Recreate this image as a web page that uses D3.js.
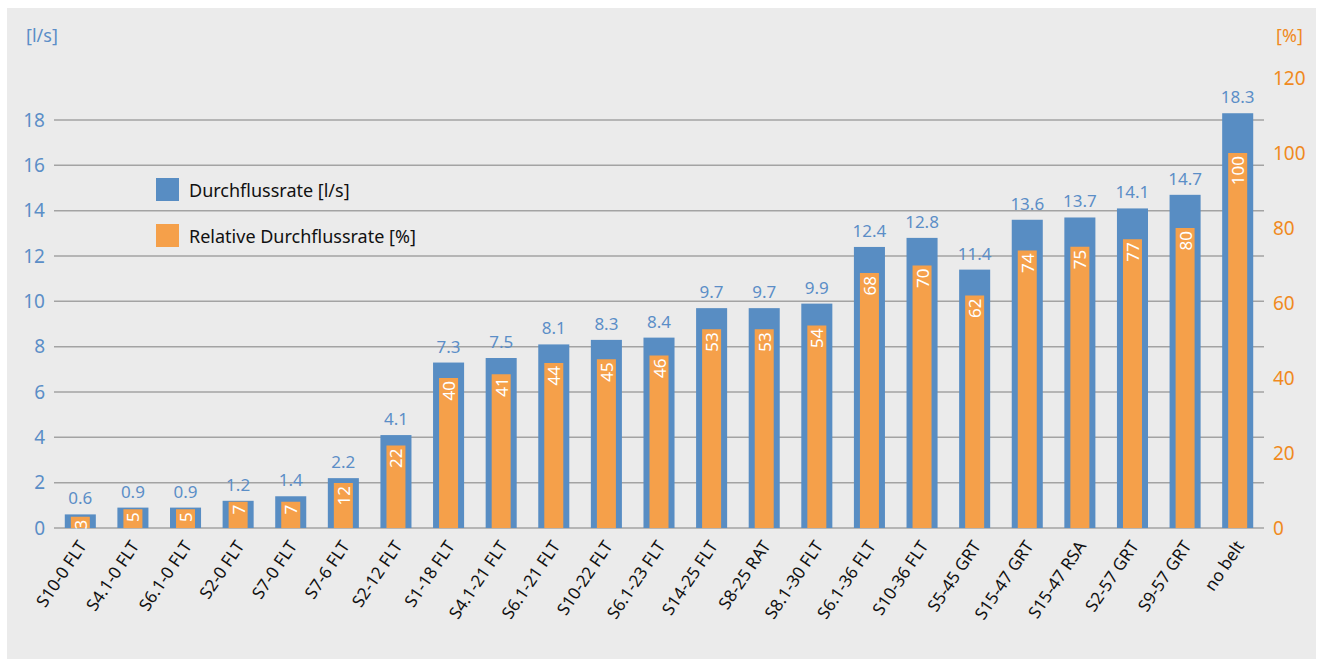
<!DOCTYPE html>
<html><head><meta charset="utf-8">
<script src="https://cdn.jsdelivr.net/npm/d3@7"></script>
<style>body{margin:0;background:#fff;} svg{display:block;font-family:"Noto Sans",sans-serif;}</style>
</head><body>
<svg id="c" width="1317" height="659"></svg>
<script>
const categories = ["S10-0 FLT","S4.1-0 FLT","S6.1-0 FLT","S2-0 FLT","S7-0 FLT","S7-6 FLT","S2-12 FLT","S1-18 FLT","S4.1-21 FLT","S6.1-21 FLT","S10-22 FLT","S6.1-23 FLT","S14-25 FLT","S8-25 RAT","S8.1-30 FLT","S6.1-36 FLT","S10-36 FLT","S5-45 GRT","S15-47 GRT","S15-47 RSA","S2-57 GRT","S9-57 GRT","no belt"];
const flowRate = [0.6,0.9,0.9,1.2,1.4,2.2,4.1,7.3,7.5,8.1,8.3,8.4,9.7,9.7,9.9,12.4,12.8,11.4,13.6,13.7,14.1,14.7,18.3];
const relativeRate = [3,5,5,7,7,12,22,40,41,44,45,46,53,53,54,68,70,62,74,75,77,80,100];
const leftTicks = [0,2,4,6,8,10,12,14,16,18];
const rightTicks = [0,20,40,60,80,100,120];
const seriesNames = ["Durchflussrate [l/s]","Relative Durchflussrate [%]"];

const blue = "#588dc3", orange = "#f5a04a";
const blueText = "#5b8ec7", orangeText = "#f08a1e";
const svg = d3.select("#c");
svg.append("rect").attr("x",7).attr("y",8).attr("width",1309).attr("height",651).attr("fill","#ebebeb");

const x0 = 54, x1 = 1264, yBase = 528;
const x = d3.scaleBand().domain(categories).range([x0,x1]).paddingInner(0.41).paddingOuter(0.205);
const yL = d3.scaleLinear().domain([0,20]).range([yBase,74.7]);
const yR = d3.scaleLinear().domain([0,120]).range([yBase,78]);

// gridlines
svg.append("g").selectAll("line").data(leftTicks).join("line")
  .attr("x1",x0).attr("x2",x1).attr("y1",d=>yL(d)).attr("y2",d=>yL(d))
  .attr("stroke","#a3a3a3").attr("stroke-width",1.5);

// left axis
const axL = svg.append("g").attr("transform",`translate(${x0},0)`)
  .call(d3.axisLeft(yL).tickValues(leftTicks).tickSize(0).tickPadding(9).tickFormat(d3.format("d")));
axL.select(".domain").remove();
axL.selectAll("text").attr("fill",blueText).attr("font-size",19).attr("font-family","'Noto Sans',sans-serif");

// right axis
const axR = svg.append("g").attr("transform",`translate(${x1},0)`)
  .call(d3.axisRight(yR).tickValues(rightTicks).tickSize(0).tickPadding(9).tickFormat(d3.format("d")));
axR.select(".domain").remove();
axR.selectAll("text").attr("fill",orangeText).attr("font-size",19).attr("font-family","'Noto Sans',sans-serif");

// unit labels
svg.append("text").attr("x",26).attr("y",42).attr("fill",blueText).attr("font-size",18).text("[l/s]");
svg.append("text").attr("x",1276).attr("y",42).attr("fill",orangeText).attr("font-size",18).text("[%]");

// bars
const bw = x.bandwidth();
const ow = 19;
const g = svg.append("g");
g.selectAll("rect.b").data(categories).join("rect").attr("class","b")
  .attr("x",d=>x(d)).attr("width",bw)
  .attr("y",(d,i)=>yL(flowRate[i])).attr("height",(d,i)=>yBase-yL(flowRate[i]))
  .attr("fill",blue);
g.selectAll("rect.o").data(categories).join("rect").attr("class","o")
  .attr("x",d=>x(d)+bw/2-ow/2).attr("width",ow)
  .attr("y",(d,i)=>yR(relativeRate[i])).attr("height",(d,i)=>yBase-yR(relativeRate[i]))
  .attr("fill",orange);

// value labels
g.selectAll("text.bv").data(categories).join("text").attr("class","bv")
  .attr("x",d=>x(d)+bw/2).attr("y",(d,i)=>yL(flowRate[i])-10)
  .attr("text-anchor","middle").attr("fill",blueText).attr("font-size",17)
  .text((d,i)=>flowRate[i].toFixed(1));
g.selectAll("text.ov").data(categories).join("text").attr("class","ov")
  .attr("transform",(d,i)=>`translate(${x(d)+bw/2+6.5},${yR(relativeRate[i])+3}) rotate(-90)`)
  .attr("text-anchor","end").attr("fill","#fff").attr("font-size",17)
  .text((d,i)=>relativeRate[i]);

// category labels
g.selectAll("text.cat").data(categories).join("text").attr("class","cat")
  .attr("transform",d=>`translate(${x(d)+bw/2+7},${546}) rotate(-56)`)
  .attr("text-anchor","end").attr("fill","#111").attr("font-size",17)
  .text(d=>d);

// legend
const lg = svg.append("g");
seriesNames.forEach((n,i)=>{
  lg.append("rect").attr("x",156).attr("y",178+i*46).attr("width",23).attr("height",23).attr("fill",i?orange:blue);
  lg.append("text").attr("x",189).attr("y",197+i*46).attr("fill","#111").attr("font-size",18).text(n);
});
</script>
</body></html>
